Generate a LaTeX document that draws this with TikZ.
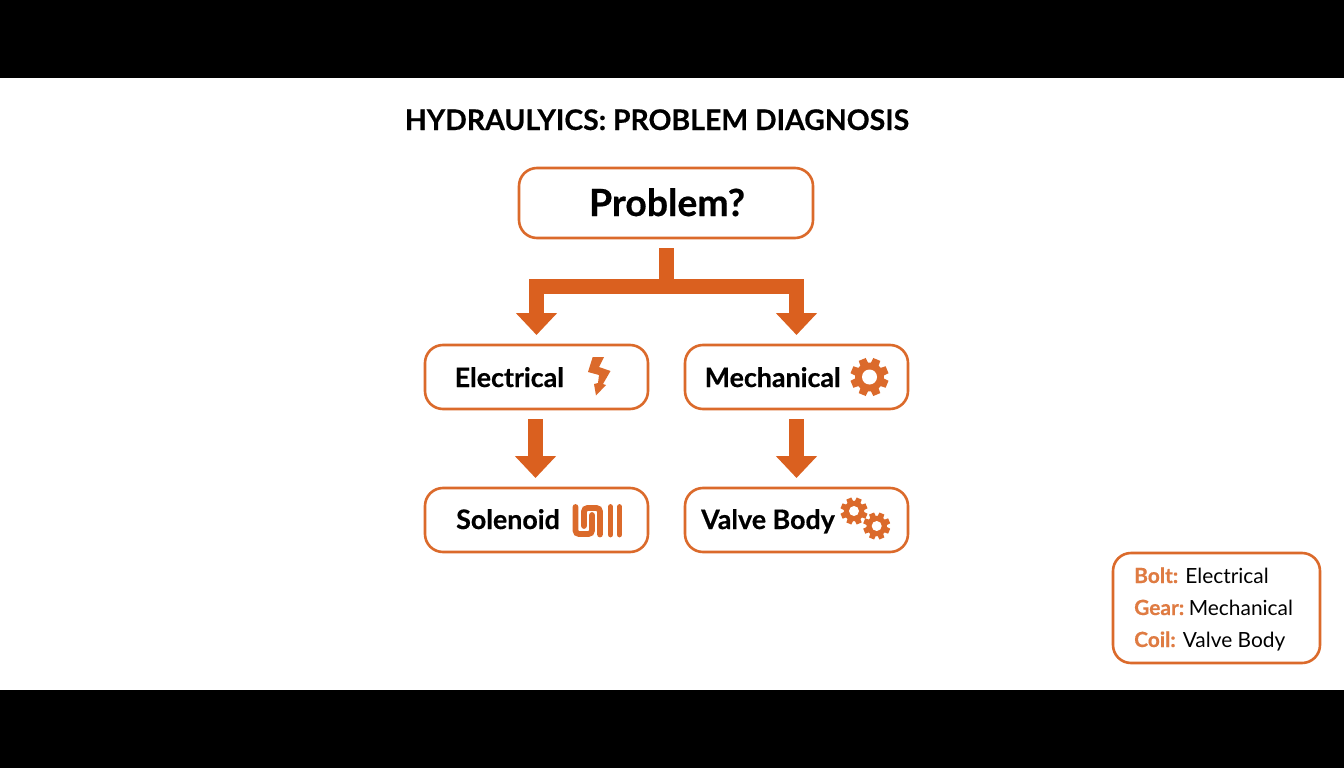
\documentclass[tikz,border=0pt]{standalone}
\usepackage{fontspec}
\setmainfont{Lato}[BoldFeatures={FakeBold=0.5}]
\usetikzlibrary{arrows.meta}
\definecolor{rust}{HTML}{DB6A2B}
\definecolor{arrowrust}{HTML}{DA601F}
\definecolor{legendrust}{HTML}{DF7B42}
\newcommand{\gearicon}[4]{% cx cy outer hole
  \begin{scope}[shift={(#1,#2)}]
    \fill[rust] (0,0) circle[radius=#3*0.76];
    \foreach \a in {0,45,...,315}
      \fill[rust,rotate=\a+22.5] (-#3*0.26,0) -- (-#3*0.2,#3) -- (#3*0.2,#3) -- (#3*0.26,0) -- cycle;
    \fill[white] (0,0) circle[radius=#4];
  \end{scope}}
\tikzset{
  x=1pt,y=-1pt,
  box/.style={draw=rust,line width=2.6pt,fill=white,rounded corners=18pt,inner sep=0pt,outer sep=0pt},
  bigarrow/.style={draw=arrowrust,line width=15pt,-{Triangle[length=22pt,width=40pt]},shorten >=10pt,shorten <=10pt},
  stem/.style={draw=arrowrust,line width=15pt,line join=miter},
  lbl/.style={font=\bfseries\fontsize{26.8}{26.8}\selectfont,text=black,anchor=base west,inner sep=0pt},
  lgd/.style={font=\fontsize{20.9}{21}\selectfont,text=black,anchor=base west,inner sep=0pt},
  coilstroke/.style={draw=rust,line width=5.8pt,line cap=round,rounded corners=3.5pt},
}
\begin{document}
\begin{tikzpicture}
\useasboundingbox (0,0) rectangle (1344,768);
\fill[white] (0,0) rectangle (1344,768);
\fill[black] (0,0) rectangle (1344,78);
\fill[black] (0,690) rectangle (1344,768);

\node[anchor=base,inner sep=0pt,font=\bfseries\fontsize{28.4}{28.4}\selectfont] (title) at (657,130) {HYDRAULYICS: PROBLEM DIAGNOSIS};

\node[box,minimum width=294pt,minimum height=70pt] (problem) at (666,203) {};
\node[box,minimum width=223pt,minimum height=64pt] (electrical) at (536.5,377) {};
\node[box,minimum width=223pt,minimum height=64pt] (mechanical) at (796.5,377) {};
\node[box,minimum width=223pt,minimum height=64pt] (solenoid) at (536.5,520) {};
\node[box,minimum width=223pt,minimum height=64pt] (valvebody) at (796.5,520) {};
\node[box,minimum width=207pt,minimum height=110pt] (legend) at (1216.5,608) {};

\node[anchor=base,inner sep=0pt,font=\bfseries\fontsize{37.4}{37.4}\selectfont] (ptext) at (667,216) {Problem?};
\node[lbl] (etext) at (454.5,387) {Electrical};
\node[lbl] (mtext) at (704.5,387) {Mechanical};
\node[lbl] (stext) at (456,529) {Solenoid};
\node[lbl] (vtext) at (701,529) {Valve Body};

\node[lgd] (l1) at (1134,583) {\textcolor{legendrust}{\bfseries Bolt:} Electrical};
\node[lgd] (l2) at (1134,615) {\textcolor{legendrust}{\bfseries Gear:}\hspace{-2.5pt} Mechanical};
\node[lgd] (l3) at (1134,647) {\textcolor{legendrust}{\bfseries Coil:} Valve Body};

\coordinate (hub) at (666,286);
\draw[stem,shorten <=10pt] (problem.south) -- (hub);
\draw[bigarrow,shorten <=0pt] (hub) -| (electrical.north);
\draw[bigarrow,shorten <=0pt] (hub) -| (mechanical.north);
\draw[bigarrow] ([xshift=-1pt]electrical.south) -- ([xshift=-1pt]solenoid.north);
\draw[bigarrow] (mechanical.south) -- (valvebody.north);

% bolt
\fill[rust] (592.7,357) -- (604,357) -- (599,367) -- (610.5,371) -- (603,384) -- (606,385) -- (596,395.5) -- (594,384) -- (598,383) -- (599,375) -- (588,372) -- cycle;

\gearicon{869.5}{377}{19}{7.5}
\gearicon{854}{511}{13.5}{5}
\gearicon{876.7}{526}{13.5}{5}

% coil
\draw[coilstroke] (575.5,507) -- (575.5,534) -- (592,534) -- (592,515);
\draw[coilstroke] (584,526) -- (584,508) -- (600,508) -- (600,534.5);
\draw[coilstroke] (610.5,507) -- (610.5,534.5);
\draw[coilstroke] (619.5,507) -- (619.5,534.5);
\end{tikzpicture}
\end{document}
